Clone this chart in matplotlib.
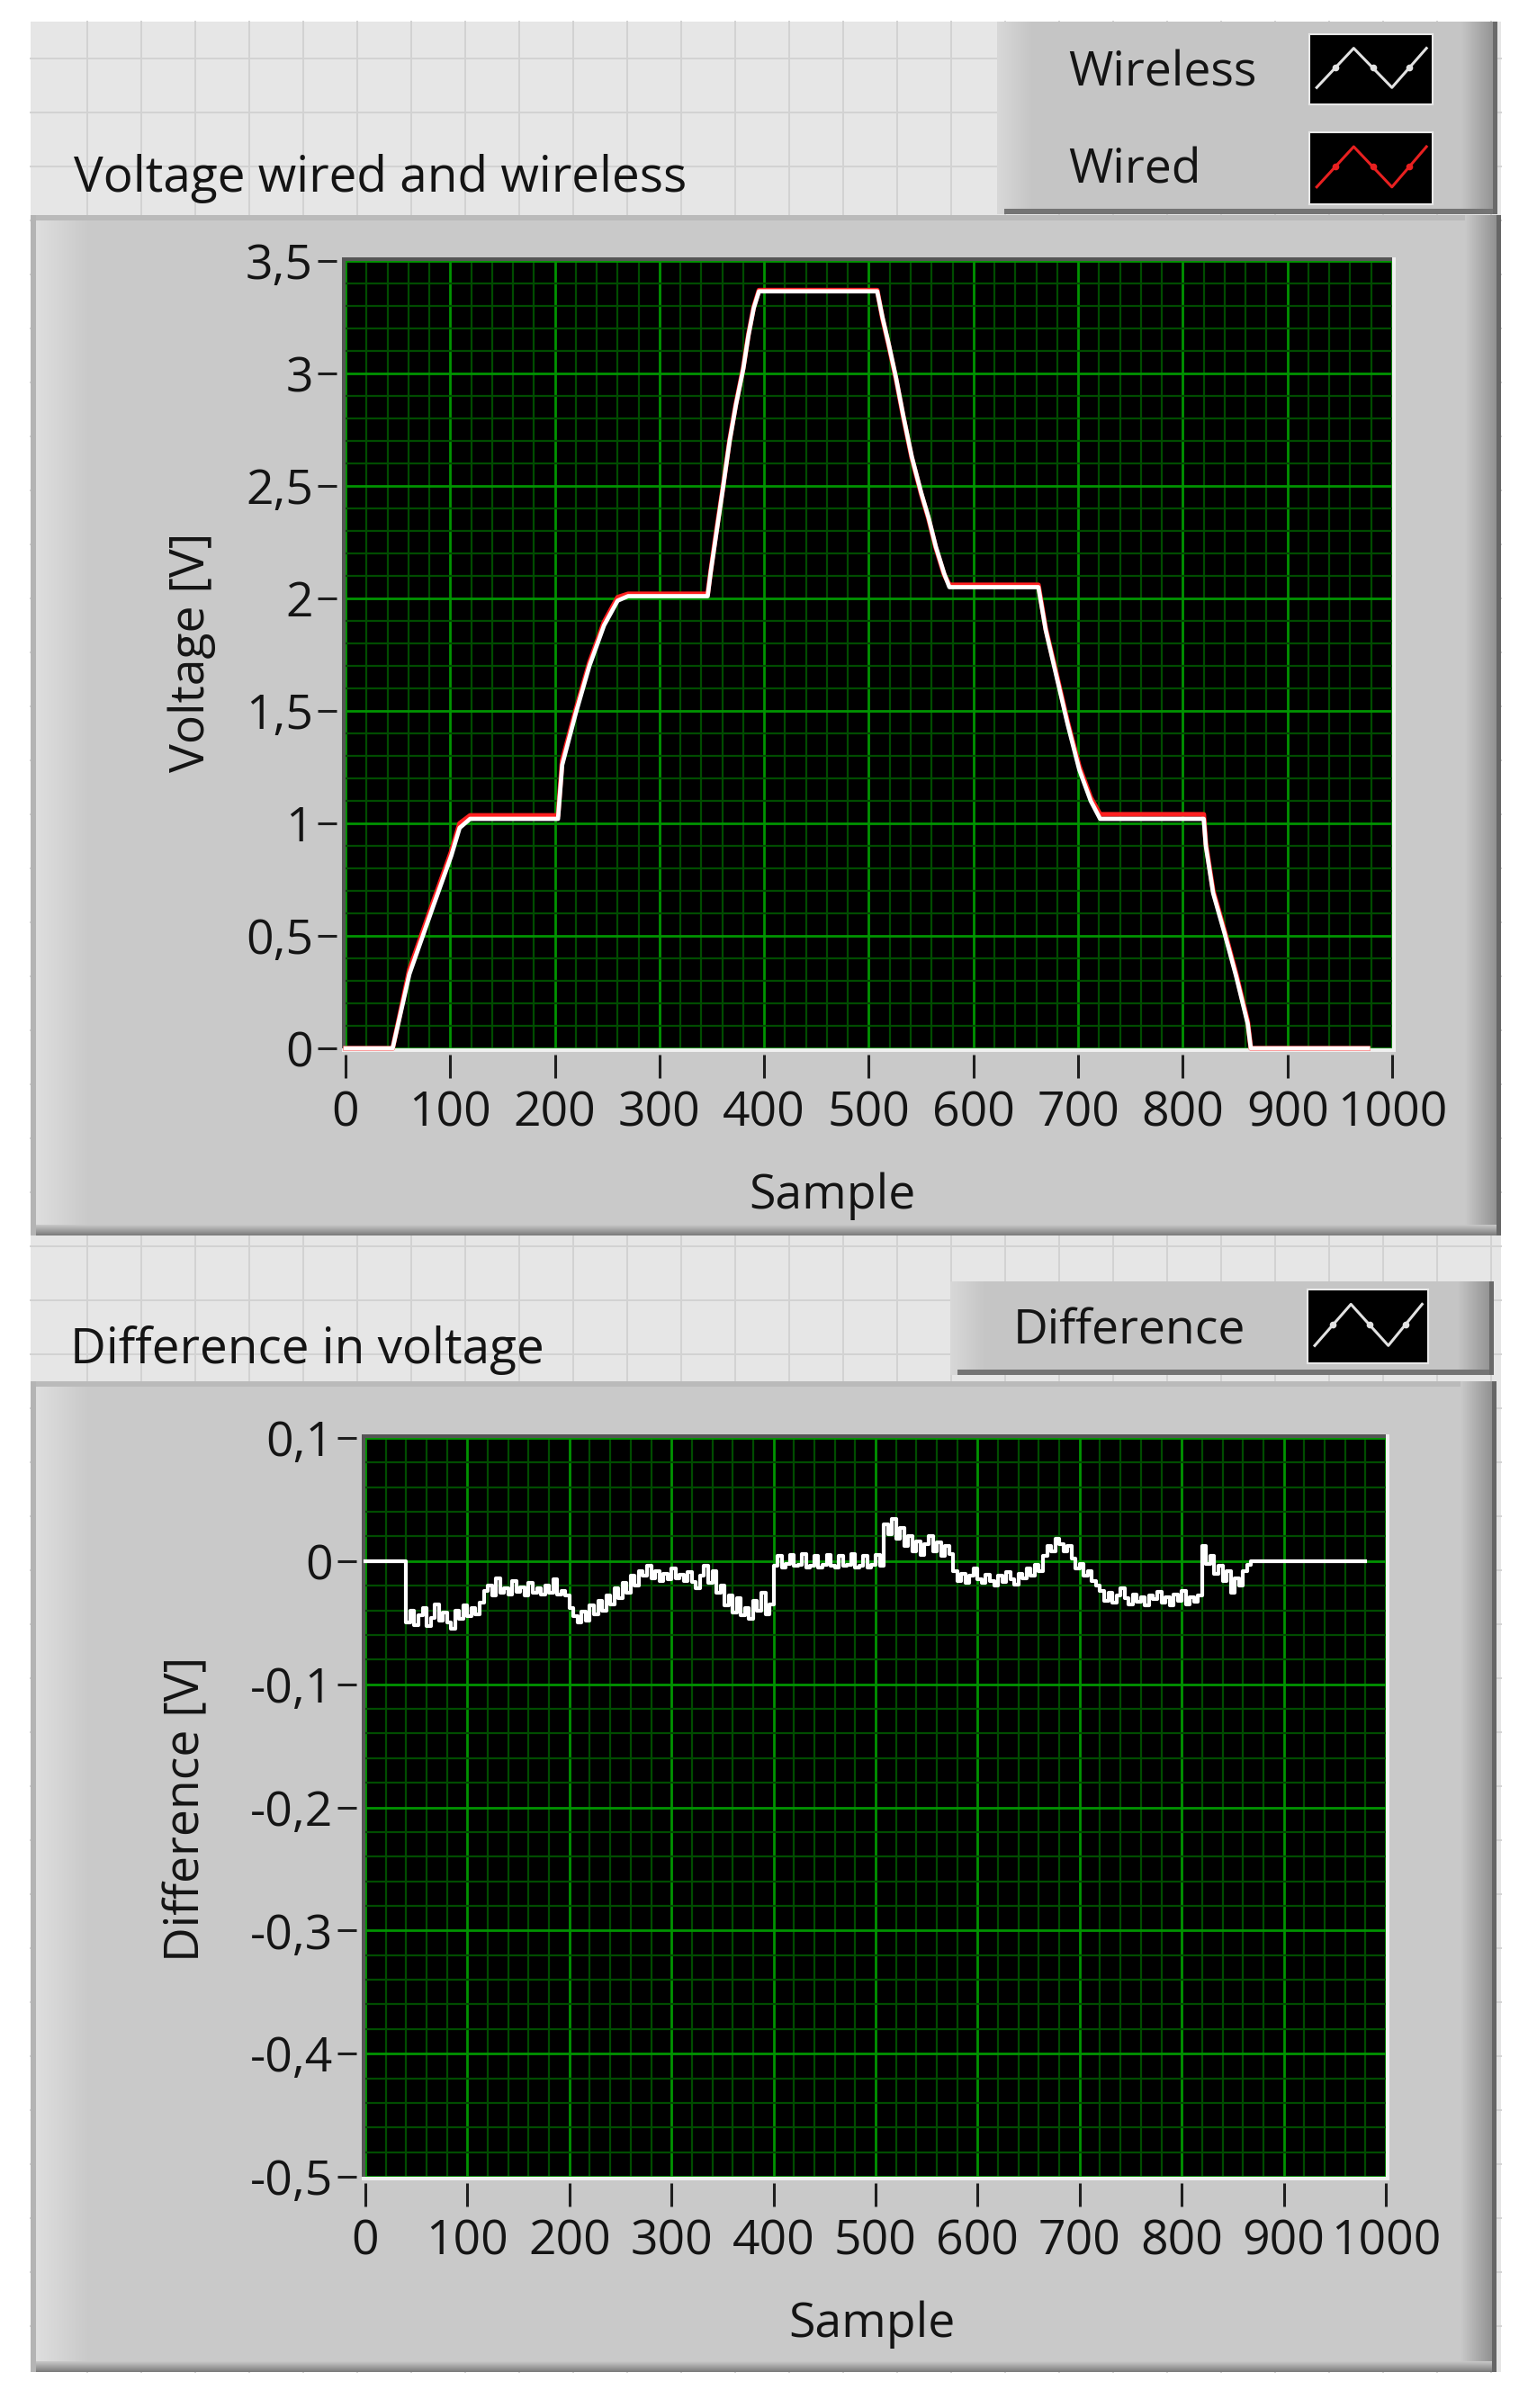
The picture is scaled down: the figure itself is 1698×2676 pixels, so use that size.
import numpy as np
import matplotlib
matplotlib.use('Agg')
import matplotlib.pyplot as plt
from matplotlib.patches import Rectangle
from matplotlib.ticker import MultipleLocator
from matplotlib import font_manager as fm
import matplotlib.colors as mcolors

# ---------------- data ----------------
sample_x = [0, 45, 61, 84, 101, 109, 119, 203, 207, 220, 233, 247, 260, 270, 346, 349, 354,
            360, 367, 373, 380, 385, 390, 395, 508, 513, 519, 526, 533, 541, 550, 557, 564,
            572, 577, 662, 669, 679, 690, 701, 712, 721, 820, 822, 829, 840, 851, 862, 865, 977]
wireless_v = [0, 0, 0.33, 0.635, 0.856, 0.98, 1.02, 1.02, 1.26, 1.49, 1.70, 1.88, 1.99, 2.01,
              2.01, 2.12, 2.28, 2.47, 2.70, 2.86, 3.02, 3.17, 3.29, 3.365, 3.365, 3.25, 3.13,
              2.98, 2.81, 2.63, 2.47, 2.36, 2.23, 2.11, 2.05, 2.05, 1.86, 1.66, 1.44, 1.24,
              1.10, 1.02, 1.02, 0.90, 0.69, 0.51, 0.32, 0.11, 0, 0]
wired_v = [0, 0, 0.35, 0.655, 0.875, 1.0, 1.035, 1.035, 1.28, 1.505, 1.715, 1.895, 2.005, 2.02,
           2.02, 2.125, 2.29, 2.475, 2.705, 2.865, 3.025, 3.175, 3.295, 3.37, 3.37, 3.245,
           3.125, 2.975, 2.805, 2.625, 2.465, 2.355, 2.225, 2.105, 2.06, 2.06, 1.865, 1.67,
           1.45, 1.255, 1.115, 1.04, 1.04, 0.91, 0.70, 0.52, 0.33, 0.12, 0, 0]

diff_x = [0, 39,
          40, 44, 48, 52, 56, 60, 64, 68, 72, 76, 80, 84, 88, 92, 96, 100, 104, 108, 112,
          116, 120, 124, 128, 132, 136, 140, 144, 148, 152, 156, 160, 164, 168, 172, 176, 180,
          184, 188, 192, 196,
          200, 204, 208, 212, 216, 220,
          224, 228, 232, 236, 240, 244, 248, 252, 256, 260, 264, 268,
          272, 276, 280, 284, 288, 292, 296, 300, 304, 308, 312, 316, 320,
          324, 328, 332, 336, 340, 344, 348,
          352, 356, 360, 364, 368, 372, 376, 380, 384, 388, 392, 396,
          400, 404, 408, 412, 416, 420, 424, 428, 432, 436, 440, 444, 448, 452, 456, 460, 464,
          468, 472, 476, 480, 484, 488, 492, 496, 500, 504,
          508, 512, 516, 520, 524, 528, 532, 536, 540, 544, 548, 552, 556, 560, 564, 568, 572,
          576, 580, 584, 588, 592, 596, 600, 604, 608, 612, 616, 620, 624, 628, 632, 636, 640,
          644, 648, 652, 656, 660,
          664, 668, 672, 676, 680, 684, 688, 692,
          696, 700, 704, 708, 712, 716,
          720, 724, 728, 732, 736, 740, 744, 748, 752, 756, 760, 764, 768, 772, 776, 780, 784,
          788, 792, 796, 800, 804, 808, 812, 816,
          820, 824, 828, 832, 836, 840, 844, 848, 852, 856, 860, 864,
          868, 980]
diff_v = [0, 0,
          -0.050, -0.040, -0.052, -0.044, -0.038, -0.053, -0.046, -0.035, -0.048, -0.042,
          -0.050, -0.055, -0.040, -0.047, -0.036, -0.045, -0.038, -0.043, -0.034,
          -0.024, -0.020, -0.028, -0.014, -0.026, -0.022, -0.027, -0.016, -0.025, -0.021,
          -0.028, -0.018, -0.026, -0.022, -0.027, -0.020, -0.026, -0.015, -0.027, -0.024, -0.028,
          -0.038, -0.045, -0.050, -0.041, -0.048, -0.036,
          -0.043, -0.032, -0.040, -0.028, -0.035, -0.022, -0.030, -0.018, -0.026, -0.012,
          -0.020, -0.008,
          -0.012, -0.004, -0.014, -0.008, -0.016, -0.010, -0.015, -0.006, -0.014, -0.011,
          -0.016, -0.009, -0.017,
          -0.022, -0.012, -0.004, -0.018, -0.008, -0.026, -0.020,
          -0.036, -0.028, -0.042, -0.030, -0.044, -0.038, -0.047, -0.032, -0.040, -0.026,
          -0.043, -0.035,
          -0.004, 0.004, -0.005, -0.002, 0.005, -0.004, -0.003, 0.006, -0.005, -0.004, 0.004,
          -0.005, -0.003, 0.005, -0.004, -0.005, 0.004, -0.004, -0.003, 0.006, -0.005, -0.004,
          0.004, -0.005, -0.003, 0.005, -0.004,
          0.030, 0.022, 0.034, 0.018, 0.027, 0.012, 0.020, 0.008, 0.016, 0.005, 0.014, 0.020,
          0.008, 0.015, 0.004, 0.012, 0.006,
          -0.008, -0.016, -0.010, -0.018, -0.012, -0.006, -0.015, -0.018, -0.011, -0.016,
          -0.020, -0.012, -0.017, -0.009, -0.015, -0.019, -0.010, -0.014, -0.006, -0.012,
          -0.003, -0.008,
          0.004, 0.012, 0.008, 0.018, 0.014, 0.008, 0.012, 0.002,
          -0.006, -0.002, -0.012, -0.008, -0.016, -0.020,
          -0.024, -0.032, -0.026, -0.034, -0.028, -0.022, -0.030, -0.035, -0.027, -0.033,
          -0.029, -0.036, -0.028, -0.031, -0.025, -0.034, -0.029, -0.036, -0.027, -0.032,
          -0.024, -0.035, -0.029, -0.033, -0.028,
          0.012, -0.002, 0.004, -0.010, -0.004, -0.016, -0.008, -0.026, -0.014, -0.020,
          -0.008, -0.003,
          0, 0]

x_ticks = [0, 100, 200, 300, 400, 500, 600, 700, 800, 900, 1000]
x_labels = ['0', '100', '200', '300', '400', '500', '600', '700', '800', '900', '1000']
v_ticks = [0, 0.5, 1, 1.5, 2, 2.5, 3, 3.5]
v_labels = ['0', '0,5', '1', '1,5', '2', '2,5', '3', '3,5']
d_ticks = [0.1, 0, -0.1, -0.2, -0.3, -0.4, -0.5]
d_labels = ['0,1', '0', '-0,1', '-0,2', '-0,3', '-0,4', '-0,5']

# legend glyph (decorative zig-zag)
ICON_X = [0.06, 0.36, 0.67, 0.95]
ICON_Y = [0.76, 0.20, 0.76, 0.20]
ICON_DX = [0.21, 0.515, 0.81]
ICON_DY = [0.48, 0.48, 0.48]

# ---------------- fonts ----------------
names = {f.name for f in fm.fontManager.ttflist}
if 'Liberation Sans Narrow' in names:
    FONT, FS = 'Liberation Sans Narrow', 48
elif 'Open Sans' in names:
    FONT, FS = 'Open Sans', 38.5
else:
    FONT, FS = 'DejaVu Sans', 35
plt.rcParams['font.family'] = [FONT, 'DejaVu Sans']
TXT = '#141414'

# ---------------- figure ----------------
W, H = 1699, 2676
fig = plt.figure(figsize=(W / 100, H / 100), dpi=100)
fig.patch.set_facecolor('white')
bg = fig.add_axes([0, 0, 1, 1])
bg.set_xlim(0, W)
bg.set_ylim(H, 0)
bg.axis('off')


def add_ax(x0, y0, x1, y1):
    return fig.add_axes([x0 / W, 1 - y1 / H, (x1 - x0) / W, (y1 - y0) / H])


def rect(x0, y0, x1, y1, c, z=1):
    bg.add_patch(Rectangle((x0, y0), x1 - x0, y1 - y0, facecolor=c,
                           edgecolor='none', zorder=z))


def grad(x0, y0, x1, y1, c0, c1, horizontal=True, z=1):
    a = np.array(mcolors.to_rgb(c0))
    b = np.array(mcolors.to_rgb(c1))
    t = np.linspace(0, 1, 64)[:, None]
    arr = a[None, :] * (1 - t) + b[None, :] * t
    img = arr[None, :, :] if horizontal else arr[:, None, :]
    bg.imshow(img, extent=(x0, x1, y1, y0), aspect='auto',
              interpolation='bilinear', zorder=z)


# light front-panel background with its grid
rect(34, 24, 1668, 2636, '#e6e6e6', z=0.5)
for gx in np.arange(97.5, 1668, 60):
    bg.plot([gx, gx], [24, 2636], color='#d2d2d2', lw=1.4, zorder=0.6)
for gy in np.arange(65, 2636, 60):
    bg.plot([34, 1668], [gy, gy], color='#d2d2d2', lw=1.4, zorder=0.6)


def legend_panel(x0, y0, x1, y1):
    rect(x0, y0, x1, y1, '#c5c5c5', z=1)
    grad(x0, y0, x0 + 40, y1, '#d8d8d8', '#c5c5c5', z=1.1)
    grad(x1 - 40, y0, x1, y1, '#c5c5c5', '#8e8e8e', z=1.1)
    rect(x0 + 8, y1 - 6, x1, y1, '#747474', z=1.2)
    rect(x1 - 5, y0, x1, y1, '#6a6a6a', z=1.2)


def frame(x0, y0, x1, y1):
    rect(x0, y0, x1, y1, '#c9c9c9', z=1)
    rect(x0, y0, x1, y0 + 6, '#bababa', z=1.1)
    grad(x0 + 6, y0 + 6, x0 + 66, y1 - 10, '#dedede', '#c9c9c9', z=1.1)
    rect(x0, y0, x0 + 6, y1, '#b4b4b4', z=1.2)
    grad(x1 - 40, y0, x1, y1, '#c9c9c9', '#8a8a8a', z=1.1)
    rect(x1 - 5, y0, x1, y1, '#666666', z=1.2)
    grad(x0, y1 - 12, x1, y1, '#c9c9c9', '#7a7a7a', horizontal=False, z=1.15)


def plot_border(x0, y0, x1, y1):
    rect(x0 - 4, y0 - 4, x1 + 4, y1 + 4, '#f0f0f0', z=2)
    rect(x0 - 4, y0 - 4, x1, y1, '#555555', z=2.1)


legend_panel(1108, 24, 1664, 238)
frame(34, 239, 1668, 1373)
plot_border(384, 290, 1547, 1165)

legend_panel(1056, 1424, 1660, 1528)
frame(34, 1535, 1663, 2636)
plot_border(406, 1598, 1540, 2419)

# texts
bg.text(82, 213, 'Voltage wired and wireless', fontsize=FS + 1, color=TXT,
        ha='left', va='baseline', zorder=5)
bg.text(1187, 96, 'Wireless', fontsize=FS, color=TXT, ha='left', va='baseline', zorder=5)
bg.text(1187, 204, 'Wired', fontsize=FS, color=TXT, ha='left', va='baseline', zorder=5)
bg.text(213, 725, 'Voltage [V]', fontsize=FS, color=TXT, rotation=90,
        ha='center', va='center', zorder=5)
bg.text(925, 1343, 'Sample', fontsize=FS, color=TXT, ha='center', va='baseline', zorder=5)

bg.text(78, 1515, 'Difference in voltage', fontsize=FS + 1, color=TXT,
        ha='left', va='baseline', zorder=5)
bg.text(1126, 1494, 'Difference', fontsize=FS, color=TXT, ha='left', va='baseline', zorder=5)
bg.text(208, 2010, 'Difference [V]', fontsize=FS, color=TXT, rotation=90,
        ha='center', va='center', zorder=5)
bg.text(969, 2597, 'Sample', fontsize=FS, color=TXT, ha='center', va='baseline', zorder=5)


def icon(x0, y0, x1, y1, color):
    a = add_ax(x0, y0, x1, y1)
    a.set_facecolor('black')
    a.set_xlim(0, 1)
    a.set_ylim(1, 0)
    a.set_xticks([])
    a.set_yticks([])
    for s in a.spines.values():
        s.set_color('#e8e8e8')
        s.set_linewidth(1.5)
    a.plot(ICON_X, ICON_Y, color=color, lw=2.2)
    a.plot(ICON_DX, ICON_DY, 'o', ms=4.5, color=color)


icon(1455, 38, 1592, 116, '#e2e2e2')
icon(1455, 147, 1592, 227, '#e82020')
icon(1453, 1433, 1587, 1515, '#e2e2e2')


def style(ax, yticks, ylabels, yminor):
    ax.set_facecolor('black')
    ax.set_xlim(0, 1000)
    ax.set_xticks(x_ticks)
    ax.set_xticklabels(x_labels)
    ax.set_yticks(yticks)
    ax.set_yticklabels(ylabels)
    ax.xaxis.set_minor_locator(MultipleLocator(20))
    ax.yaxis.set_minor_locator(MultipleLocator(yminor))
    ax.grid(which='major', color='#009400', lw=2.0)
    ax.grid(which='minor', color='#004c00', lw=1.6)
    ax.set_axisbelow(True)
    for s in ax.spines.values():
        s.set_visible(False)
    ax.spines['left'].set_position(('outward', 7))
    ax.spines['bottom'].set_position(('outward', 5))
    ax.tick_params(which='major', direction='out', width=2.2,
                   color='#1e1e1e', labelsize=FS, labelcolor=TXT)
    ax.tick_params(axis='x', which='major', length=19, pad=9)
    ax.tick_params(axis='y', which='major', length=15, pad=4)
    ax.tick_params(which='minor', length=0)


ax1 = add_ax(384, 290, 1547, 1165)
style(ax1, v_ticks, v_labels, 0.1)
ax1.set_ylim(0, 3.5)
ax1.plot(sample_x, wired_v, color='#ff2020', lw=3.8, clip_on=False, zorder=3)
ax1.plot(sample_x, wireless_v, color='white', lw=3.4, clip_on=False, zorder=4)

ax2 = add_ax(406, 1598, 1540, 2419)
style(ax2, d_ticks, d_labels, 0.02)
ax2.set_ylim(-0.5, 0.1)
ax2.plot(diff_x, diff_v, color='white', lw=3.0, drawstyle='steps-post',
         clip_on=False, zorder=4)

fig.savefig('out.png', dpi=100, facecolor='white')
